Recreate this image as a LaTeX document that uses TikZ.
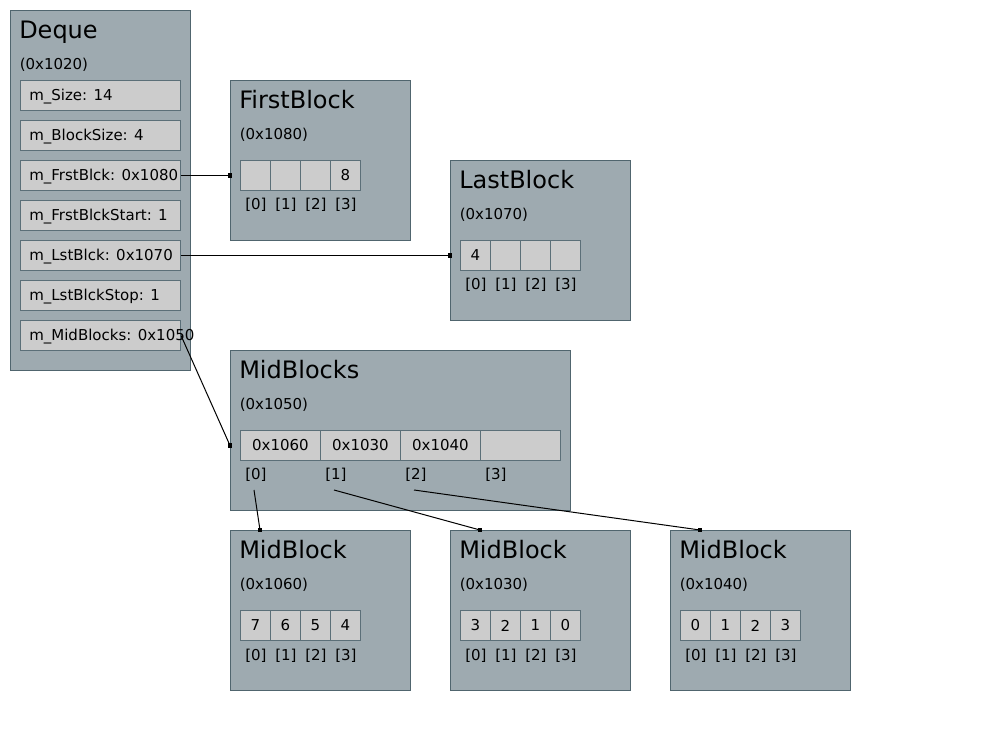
\documentclass[tikz,border=0pt]{standalone}
\usepackage{fontspec}
\setmainfont{DejaVu Sans}
\definecolor{boxfill}{RGB}{158,170,176}
\definecolor{boxdraw}{RGB}{80,101,110}
\definecolor{cellfill}{RGB}{204,204,204}
\definecolor{celldraw}{RGB}{91,111,120}
\tikzset{
  objbox/.style={draw=boxdraw, fill=boxfill, line width=0.75pt, anchor=north west, inner sep=0pt, minimum width=135pt},
  cellbox/.style={draw=celldraw, fill=cellfill, line width=0.75pt, anchor=north west, inner sep=0pt, minimum height=22.5pt, font=\fontsize{11.25}{13}\selectfont},
  titletext/.style={font=\fontsize{18}{21}\selectfont, anchor=base west, inner sep=0pt},
  smalltext/.style={font=\fontsize{11.25}{13}\selectfont, anchor=base west, inner sep=0pt},
  fieldtext/.style={font=\fontsize{11.25}{13}\selectfont, anchor=base west, inner sep=0pt},
  endmark/.style={fill=black, inner sep=0pt, minimum size=3.4pt},
  conn/.style={draw=black, line width=0.75pt}
}
\begin{document}
\begin{tikzpicture}[x=0.75pt,y=-0.75pt]
\useasboundingbox (0,0) rectangle (1000,730);
% Deque
\node[objbox, minimum height=270pt] (deque) at (10,10) {};
\node[titletext] (deque-t) at (19,38.5) {Deque};
\node[smalltext] (deque-a) at (19.5,70) {(0x1020)};
\foreach [count=\i] \f in {m\_Size: 14, m\_BlockSize: 4, m\_FrstBlck: 0x1080, m\_FrstBlckStart: 1, m\_LstBlck: 0x1070, m\_LstBlckStop: 1, m\_MidBlocks: 0x1050} {
  \node[cellbox, minimum width=120pt] (f\i) at (20,40+40*\i) {};
  \node[fieldtext] (f\i-t) at (29,61+40*\i) {\f};
}
% four-cell blocks
\foreach \nm/\bx/\by/\ttl/\adr/\va/\vb/\vc/\vd in {
  fb/230/80/FirstBlock/0x1080/{}/{}/{}/8,
  lb/450/160/LastBlock/0x1070/4/{}/{}/{},
  m1/230/530/MidBlock/0x1060/7/6/5/4,
  m2/450/530/MidBlock/0x1030/3/2/1/0,
  m3/670/530/MidBlock/0x1040/0/1/2/3} {
  \node[objbox, minimum height=120pt] (\nm) at (\bx,\by) {};
  \node[titletext] (\nm-t) at (\bx+9,\by+28.5) {\ttl};
  \node[smalltext] (\nm-a) at (\bx+9.5,\by+60) {(\adr)};
  \foreach [count=\k from 0] \v in {\va,\vb,\vc,\vd} {
    \node[cellbox, minimum width=22.5pt] (\nm-c\k) at (\bx+10+30*\k,\by+80) {\v};
    \node[smalltext] (\nm-l\k) at (\bx+15+30*\k,\by+130) {[\k]};
  }
}
% MidBlocks
\node[objbox, minimum width=255pt, minimum height=120pt] (mbs) at (230,350) {};
\node[titletext] (mbs-t) at (239,378.5) {MidBlocks};
\node[smalltext] (mbs-a) at (239.5,410) {(0x1050)};
\foreach [count=\k from 0] \v in {0x1060,0x1030,0x1040,{}} {
  \node[cellbox, minimum width=60pt] (mbs-c\k) at (240+80*\k,430) {\v};
  \node[smalltext] (mbs-l\k) at (245+80*\k,480) {[\k]};
}
% connectors
\node[endmark] (e1) at (fb.west |- fb-c0) {};
\draw[conn] (f3.east) -- (e1.center);
\node[endmark] (e2) at (lb.west |- lb-c0) {};
\draw[conn] (f5.east) -- (e2.center);
\node[endmark] (e3) at (mbs.west |- mbs-c0) {};
\draw[conn] (f7.east) -- (e3.center);
\coordinate (s0) at (254,490);
\coordinate (s1) at (334,490);
\coordinate (s2) at (414,490);
\node[endmark] (e4) at (260,530) {};
\node[endmark] (e5) at (480,530) {};
\node[endmark] (e6) at (700,530) {};
\draw[conn] (s0) -- (e4.center);
\draw[conn] (s1) -- (e5.center);
\draw[conn] (s2) -- (e6.center);
\end{tikzpicture}
\end{document}
